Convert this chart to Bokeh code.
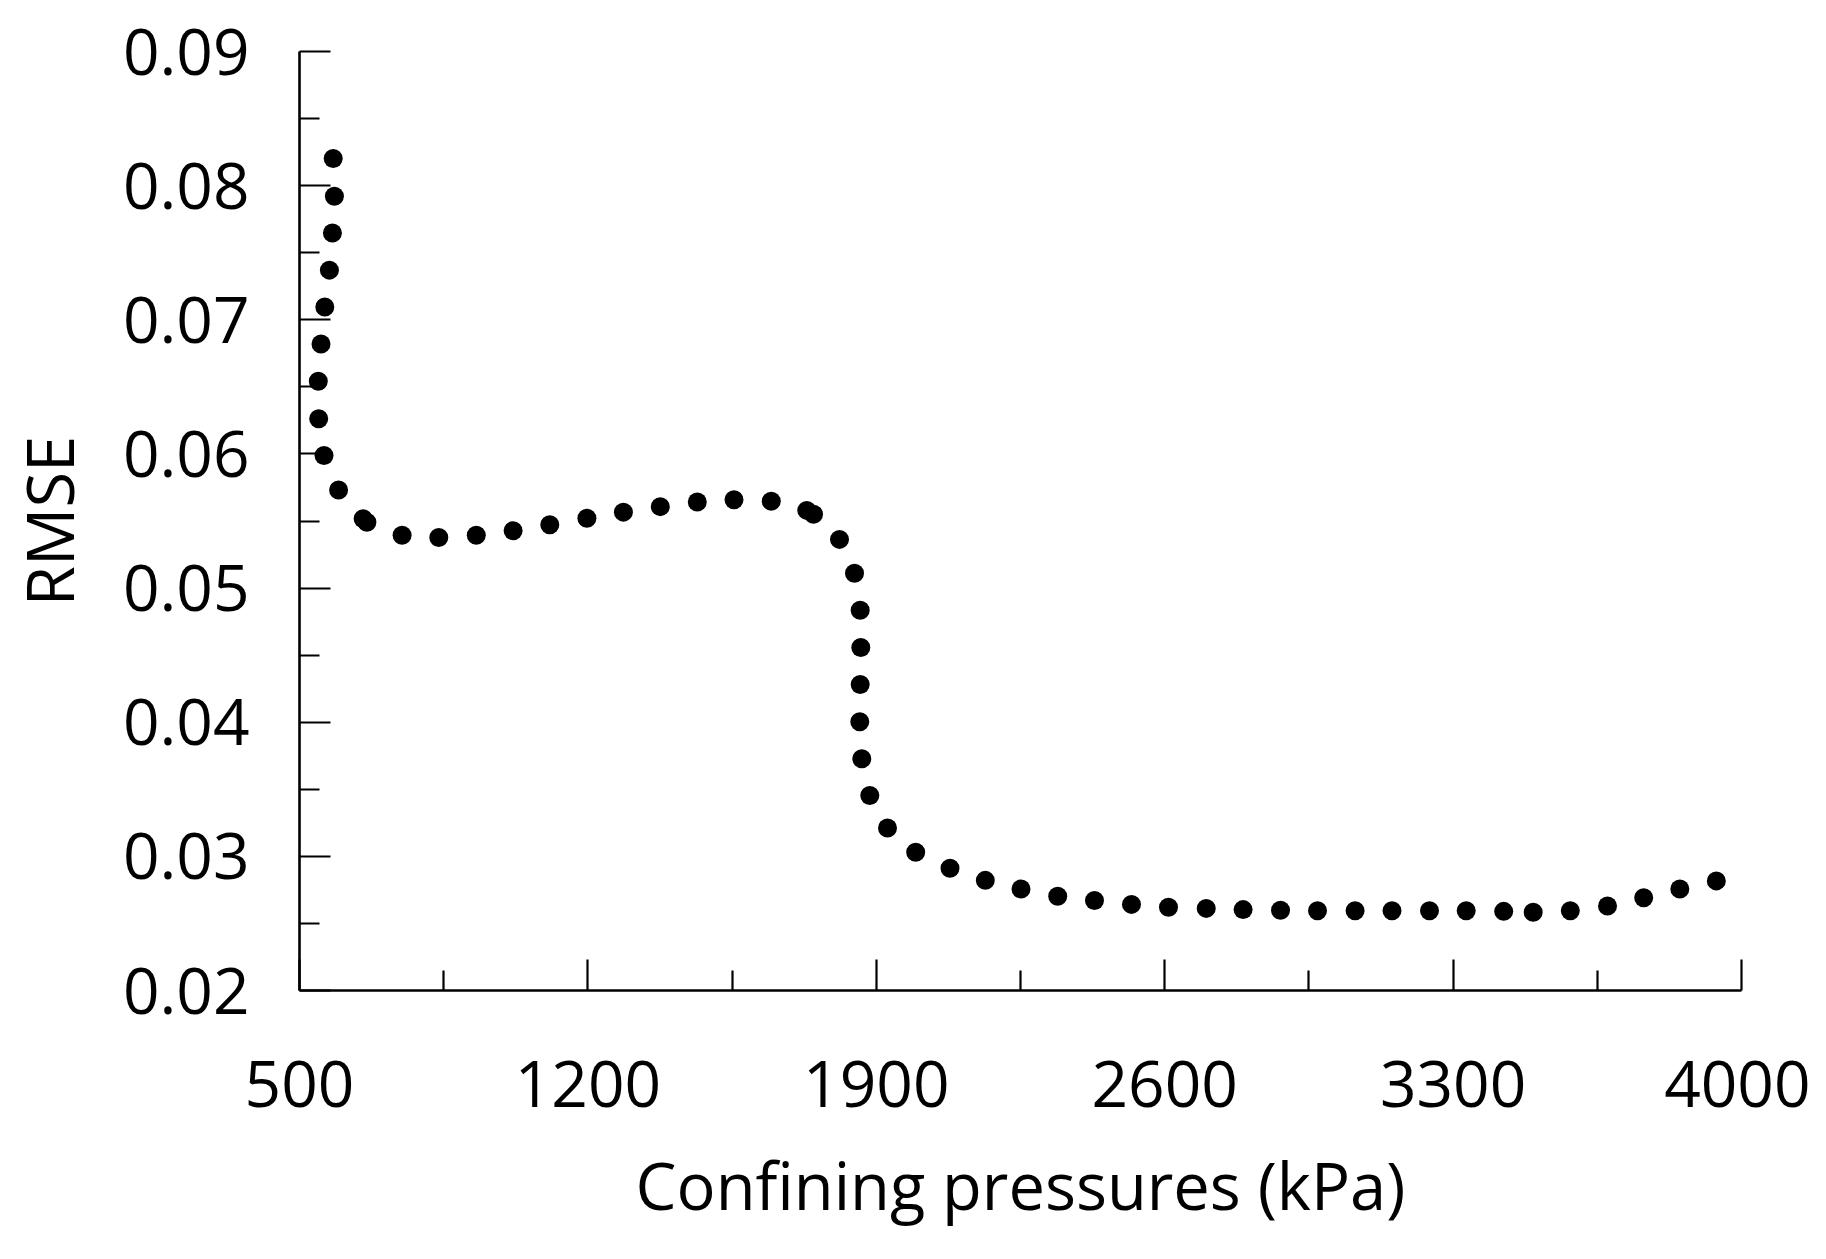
from bokeh.plotting import figure
from bokeh.models import Range1d, FixedTicker, ColumnDataSource
from bokeh.embed import file_html
from bokeh.resources import INLINE

# Confining pressure (kPa) and RMSE
pressure = [581.8, 584.7, 579.9, 572.6, 561.4, 552.2, 545.6, 546.6, 559.5, 594.9,
            654.4, 663.6, 749.0, 838.1, 929.1, 1018.5, 1107.5, 1197.6, 1286.2, 1375.7,
            1465.5, 1554.6, 1645.1, 1731.3, 1747.6, 1810.7, 1847.1, 1860.9, 1862.4, 1860.9,
            1859.9, 1864.8, 1884.2, 1927.2, 1995.6, 2078.9, 2164.6, 2251.2, 2340.3, 2429.6,
            2519.4, 2609.2, 2700.8, 2790.3, 2881.1, 2970.9, 3062.1, 3151.7, 3242.7, 3331.8,
            3422.8, 3494.4, 3584.5, 3674.8, 3762.6, 3850.3, 3938.9]
rmse = [0.08203, 0.07921, 0.07647, 0.07370, 0.07096, 0.06819, 0.06542, 0.06262, 0.05988, 0.05731,
        0.05517, 0.05491, 0.05394, 0.05377, 0.05394, 0.05428, 0.05472, 0.05520, 0.05566, 0.05607,
        0.05642, 0.05658, 0.05648, 0.05579, 0.05551, 0.05363, 0.05111, 0.04835, 0.04557, 0.04281,
        0.04003, 0.03727, 0.03453, 0.03211, 0.03030, 0.02912, 0.02821, 0.02757, 0.02703, 0.02671,
        0.02642, 0.02621, 0.02612, 0.02603, 0.02598, 0.02595, 0.02595, 0.02595, 0.02595, 0.02595,
        0.02590, 0.02583, 0.02595, 0.02630, 0.02692, 0.02757, 0.02817]

x_ticks = [500, 1200, 1900, 2600, 3300, 4000]
x_minor = [850, 1550, 2250, 2950, 3650]
y_ticks = [0.02, 0.03, 0.04, 0.05, 0.06, 0.07, 0.08, 0.09]
y_minor = [0.025, 0.035, 0.045, 0.055, 0.065, 0.075, 0.085]
y_labels = {t: f"{t:.2f}" for t in y_ticks}
x_labels = {t: str(t) for t in x_ticks}

FONT = "Open Sans"

p = figure(width=1810, height=1243, output_backend="svg", toolbar_location=None,
           x_range=Range1d(500, 4000), y_range=Range1d(0.02, 0.09),
           min_border_left=299, min_border_right=69, min_border_top=51, min_border_bottom=253)
p.outline_line_color = None
p.xgrid.visible = False
p.ygrid.visible = False
p.background_fill_color = "white"
p.border_fill_color = "white"

src = ColumnDataSource(dict(x=pressure, y=rmse))
p.scatter("x", "y", source=src, size=19, fill_color="black", line_color=None)

for ax, ticks, minor, labels in ((p.xaxis[0], x_ticks, x_minor, x_labels),
                                 (p.yaxis[0], y_ticks, y_minor, y_labels)):
    ax.ticker = FixedTicker(ticks=ticks, minor_ticks=minor)
    ax.major_label_overrides = labels
    ax.axis_line_width = 2.6
    ax.axis_line_color = "black"
    ax.major_tick_line_width = 2.2
    ax.minor_tick_line_width = 2.2
    ax.major_tick_line_color = "black"
    ax.minor_tick_line_color = "black"
    ax.major_tick_in = 31
    ax.major_tick_out = 0
    ax.minor_tick_in = 20
    ax.minor_tick_out = 0
    ax.major_label_text_font = FONT
    ax.major_label_text_font_size = "64px"
    ax.major_label_text_color = "black"
    ax.axis_label_text_font = FONT
    ax.axis_label_text_font_size = "65px"
    ax.axis_label_text_font_style = "normal"
    ax.axis_label_text_color = "black"

p.xaxis.axis_label = "Confining pressures (kPa)"
p.yaxis.axis_label = "RMSE"
p.xaxis.major_label_standoff = 70
p.yaxis.major_label_standoff = 50
p.xaxis.axis_label_standoff = 31
p.yaxis.axis_label_standoff = 27

open("out.html", "w").write(file_html(p, INLINE))
